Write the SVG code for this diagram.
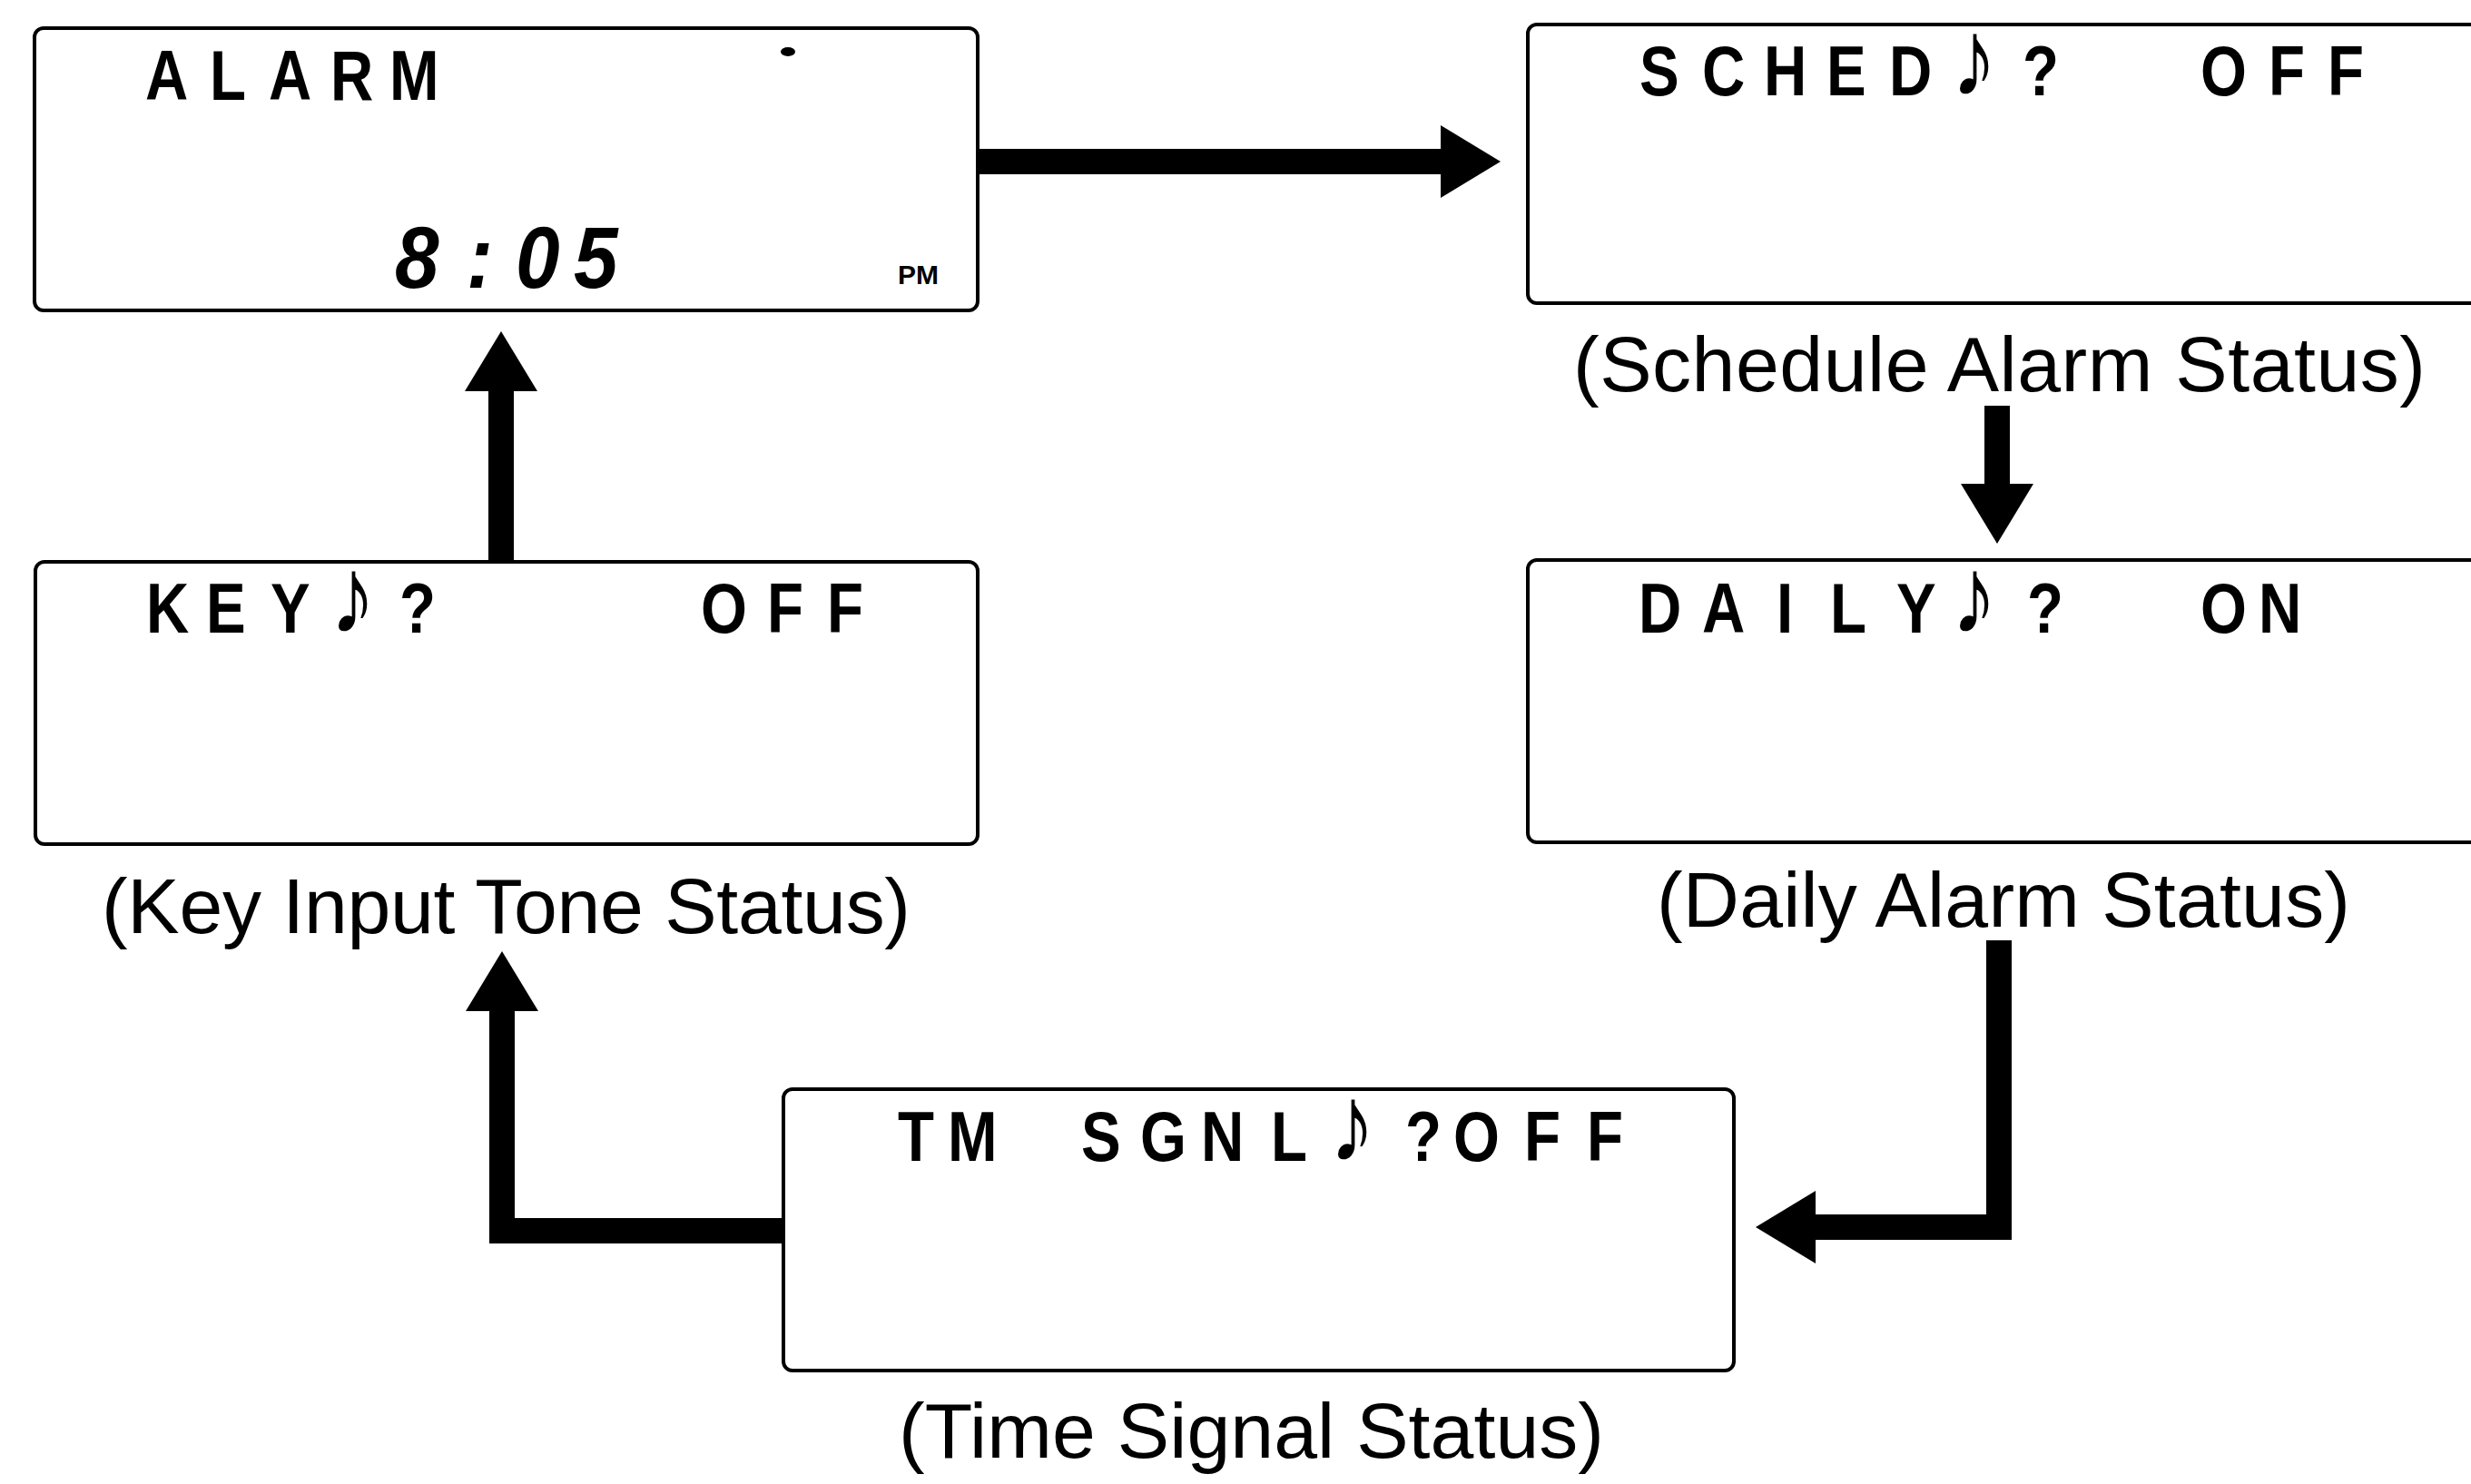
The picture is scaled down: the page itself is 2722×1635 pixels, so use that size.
<svg xmlns="http://www.w3.org/2000/svg" width="2722" height="1635" viewBox="0 0 2722 1635">
<style>
.box{fill:#fff;stroke:#000;stroke-width:4}
.lcd{font-family:"Liberation Sans",Arial,sans-serif;font-weight:bold;font-size:77px;fill:#000}
.note{font-size:120px;font-weight:normal}
.lbl{font-family:"Liberation Sans",Arial,sans-serif;font-size:86px;fill:#000}
.conn{fill:none;stroke:#000;stroke-width:28;stroke-linejoin:miter;marker-end:url(#head)}
</style>
<defs>
<marker id="head" markerUnits="userSpaceOnUse" viewBox="0 -40 66 80" markerWidth="66" markerHeight="80" refX="0" refY="0" orient="auto">
<path d="M0,-40 L66,0 L0,40 Z" fill="#000"/>
</marker>
</defs>
<rect width="2722" height="1635" fill="#fff"/>

<g id="alarm">
<rect class="box" x="38" y="31" width="1039" height="311" rx="10"/>
<text class="lcd" transform="translate(160 110) scale(0.85 1)" x="0 83.5 160 240 316.5" y="0">ALARM</text>
<ellipse cx="868" cy="57" rx="8" ry="5" fill="#000"/>
<text class="lcd" style="font-size:97px;font-style:italic" transform="translate(435 317) scale(0.9 1)" x="0 87.8 147.8 218.9" y="0">8:05</text>
<text class="lcd" style="font-size:30px" x="989" y="313">PM</text>
</g>

<g id="schedule">
<rect class="box" x="1683" y="27" width="1080" height="307" rx="10"/>
<text class="lcd" transform="translate(1805 105) scale(0.85 1)"><tspan x="1.2 82.4 162.4 243.5 324.7" y="0">SCHED</tspan><tspan class="note" x="405" y="0">♪</tspan><tspan x="497.6" y="0">?</tspan> <tspan x="728.2 816.5 892.9" y="0">OFF</tspan></text>
<text class="lbl" x="1733" y="431" textLength="939">(Schedule Alarm Status)</text>
</g>

<g id="key">
<rect class="box" x="39" y="619" width="1038" height="311" rx="10"/>
<text class="lcd" transform="translate(161 697) scale(0.85 1)"><tspan x="0 77.6 161.2" y="0">KEY</tspan><tspan class="note" x="238" y="0">♪</tspan><tspan x="328.2" y="0">?</tspan> <tspan x="718.8 804.7 882.4" y="0">OFF</tspan></text>
<text class="lbl" x="112" y="1028" textLength="891">(Key Input Tone Status)</text>
</g>

<g id="daily">
<rect class="box" x="1683" y="617" width="1080" height="311" rx="10"/>
<text class="lcd" transform="translate(1805 697) scale(0.85 1)"><tspan x="0 82.4 178.8 248.2 334.1" y="0">DAILY</tspan><tspan class="note" x="405" y="0">♪</tspan><tspan x="503.5" y="0">?</tspan> <tspan x="728.2 803.5" y="0">ON</tspan></text>
<text class="lbl" x="1825" y="1021" textLength="764">(Daily Alarm Status)</text>
</g>

<g id="timesignal">
<rect class="box" x="863" y="1200" width="1047" height="310" rx="10"/>
<text class="lcd" transform="translate(990 1279) scale(0.85 1)"><tspan x="-1.2 63.5" y="0">TM</tspan> <tspan x="236.5 312.9 391.8 482.4" y="0">SGNL</tspan><tspan class="note" x="558" y="0">♪</tspan><tspan x="656.5 718.8 810.6 891.8" y="0">?OFF</tspan></text>
<text class="lbl" x="990" y="1606" textLength="777">(Time Signal Status)</text>
</g>

<g id="connectors">
<path class="conn" d="M1077,178 L1587,178"/>
<path class="conn" d="M2200,447 L2200,533"/>
<path class="conn" d="M2202,1036 L2202,1352 L2000,1352"/>
<path class="conn" d="M863,1356 L553,1356 L553,1114"/>
<path class="conn" d="M552,619 L552,431"/>
</g>
</svg>
